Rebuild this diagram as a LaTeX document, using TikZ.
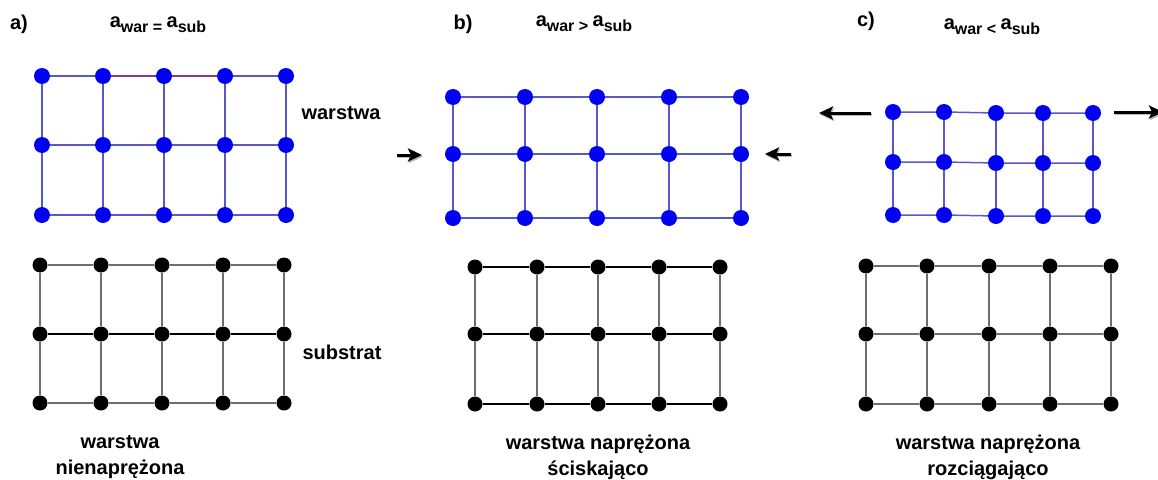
\documentclass[tikz,border=0pt]{standalone}
\usepackage{fontspec}
\setmainfont{Liberation Sans}
\usetikzlibrary{arrows.meta}
\definecolor{dotblue}{HTML}{0000F2}
\definecolor{lineblue}{HTML}{5858C8}
\definecolor{linegray}{HTML}{6E6E6E}
\definecolor{lineplum}{HTML}{8A3A78}

% lattice constant with a subscript, as in the titles
\newcommand{\latt}[1]{a\raisebox{-5pt}{\fontsize{16}{16}\selectfont #1}}

\begin{document}
\begin{tikzpicture}[
  x=1pt, y=-1pt,
  font=\fontsize{20}{26}\selectfont\bfseries,
  bluedot/.style={circle, fill=dotblue, inner sep=0pt, minimum size=16pt},
  blackdot/.style={circle, fill=black, inner sep=0pt, minimum size=15pt},
  blueline/.style={lineblue, line width=1.5pt},
  grayline/.style={linegray, line width=1.5pt},
  pusharrow/.style={-{Stealth[length=14pt, width=13pt, inset=3pt]}, line width=3pt},
  arrowshadow/.style={pusharrow, gray!55, transform canvas={xshift=1pt, yshift=-1.6pt}}
]
\useasboundingbox (0,0) rectangle (1158,479);

% ---------- a) unstrained layer ----------
\node (labA) at (19,24) {a)};
\node (eqA) at (158,25) {\latt{war = }\latt{sub}};

% layer (blue lattice)
\foreach \x [count=\i] in {42,103,164,225,286}
  \foreach \y [count=\j] in {76,145,215}
    \node[bluedot] (aw\i\j) at (\x,\y) {};
\foreach \i in {1,...,5}
  \draw[blueline] (aw\i1) -- (aw\i2) -- (aw\i3);
\foreach \j in {1,2,3}
  \draw[blueline] (aw1\j) -- (aw2\j) -- (aw3\j) -- (aw4\j) -- (aw5\j);
\draw[lineplum, line width=1.5pt] (aw21) -- (aw31) -- (aw41);

% substrate (black lattice)
\foreach \x [count=\i] in {40,101,162,223,284}
  \foreach \y [count=\j] in {265,334,403}
    \node[blackdot] (as\i\j) at (\x,\y) {};
\foreach \i in {1,...,5}
  \draw[grayline] (as\i1) -- (as\i2) -- (as\i3);
\foreach \j in {1,3}
  \draw[grayline] (as1\j) -- (as2\j) -- (as3\j) -- (as4\j) -- (as5\j);
\draw[black, line width=1.3pt] (as12) -- (as22) -- (as32) -- (as42) -- (as52);

\node (warstwa) at (341,113) {warstwa};
\node (substrat) at (342,352) {substrat};
\node[align=center] (capA) at (120,457) {warstwa\\nienaprężona};

% ---------- b) compressive strain ----------
\node (labB) at (463,24) {b)};
\node (eqB) at (584,24) {\latt{war > }\latt{sub}};

\foreach \x [count=\i] in {453,525,597,669,741}
  \foreach \y [count=\j] in {97,154,218}
    \node[bluedot] (bw\i\j) at (\x,\y) {};
\foreach \i in {1,...,5}
  \draw[blueline] (bw\i1) -- (bw\i2) -- (bw\i3);
\foreach \j in {1,2,3}
  \draw[blueline] (bw1\j) -- (bw2\j) -- (bw3\j) -- (bw4\j) -- (bw5\j);

\foreach \x [count=\i] in {475,537,598,659,720}
  \foreach \y [count=\j] in {267,334,404}
    \node[blackdot] (bs\i\j) at (\x,\y) {};
\foreach \i in {1,...,5}
  \draw[grayline] (bs\i1) -- (bs\i2) -- (bs\i3);
\foreach \j in {1,2,3}
  \draw[black, line width=1.3pt] (bs1\j) -- (bs2\j) -- (bs3\j) -- (bs4\j) -- (bs5\j);

% pushing arrows
\coordinate (bLfrom) at (397,155);
\coordinate (bLto) at (422,155);
\coordinate (bRfrom) at (791,154);
\coordinate (bRto) at (765,154);
\draw[arrowshadow] (bLfrom) -- (bLto);
\draw[arrowshadow] (bRfrom) -- (bRto);
\draw[pusharrow] (bLfrom) -- (bLto);
\draw[pusharrow] (bRfrom) -- (bRto);

\node[align=center] (capB) at (598,457) {warstwa naprężona\\ściskająco};

% ---------- c) tensile strain ----------
\node (labC) at (866,21) {c)};
\node (eqC) at (992,27) {\latt{war < }\latt{sub}};

\foreach \x/\d [count=\i] in {893/0,944/0,996/1,1043/1,1093/1}
  \foreach \y [count=\j] in {112,162,215}
    \node[bluedot] (cw\i\j) at (\x,\y+\d) {};
\foreach \i in {1,...,5}
  \draw[blueline] (cw\i1) -- (cw\i2) -- (cw\i3);
\foreach \j in {1,2,3}
  \draw[blueline] (cw1\j) -- (cw2\j) -- (cw3\j) -- (cw4\j) -- (cw5\j);

\foreach \x [count=\i] in {866,927,989,1050,1111}
  \foreach \y [count=\j] in {266,334,404}
    \node[blackdot] (cs\i\j) at (\x,\y) {};
\foreach \i in {1,...,5}
  \draw[grayline] (cs\i1) -- (cs\i2) -- (cs\i3);
\foreach \j in {1,2,3}
  \draw[grayline] (cs1\j) -- (cs2\j) -- (cs3\j) -- (cs4\j) -- (cs5\j);

% pulling arrows
\coordinate (cLfrom) at (871,113);
\coordinate (cLto) at (819,113);
\coordinate (cRfrom) at (1114,112);
\coordinate (cRto) at (1163,112);
\draw[arrowshadow] (cLfrom) -- (cLto);
\draw[arrowshadow] (cRfrom) -- (cRto);
\draw[pusharrow] (cLfrom) -- (cLto);
\draw[pusharrow] (cRfrom) -- (cRto);

\node[align=center] (capC) at (988,457) {warstwa naprężona\\rozciągająco};

\end{tikzpicture}
\end{document}
